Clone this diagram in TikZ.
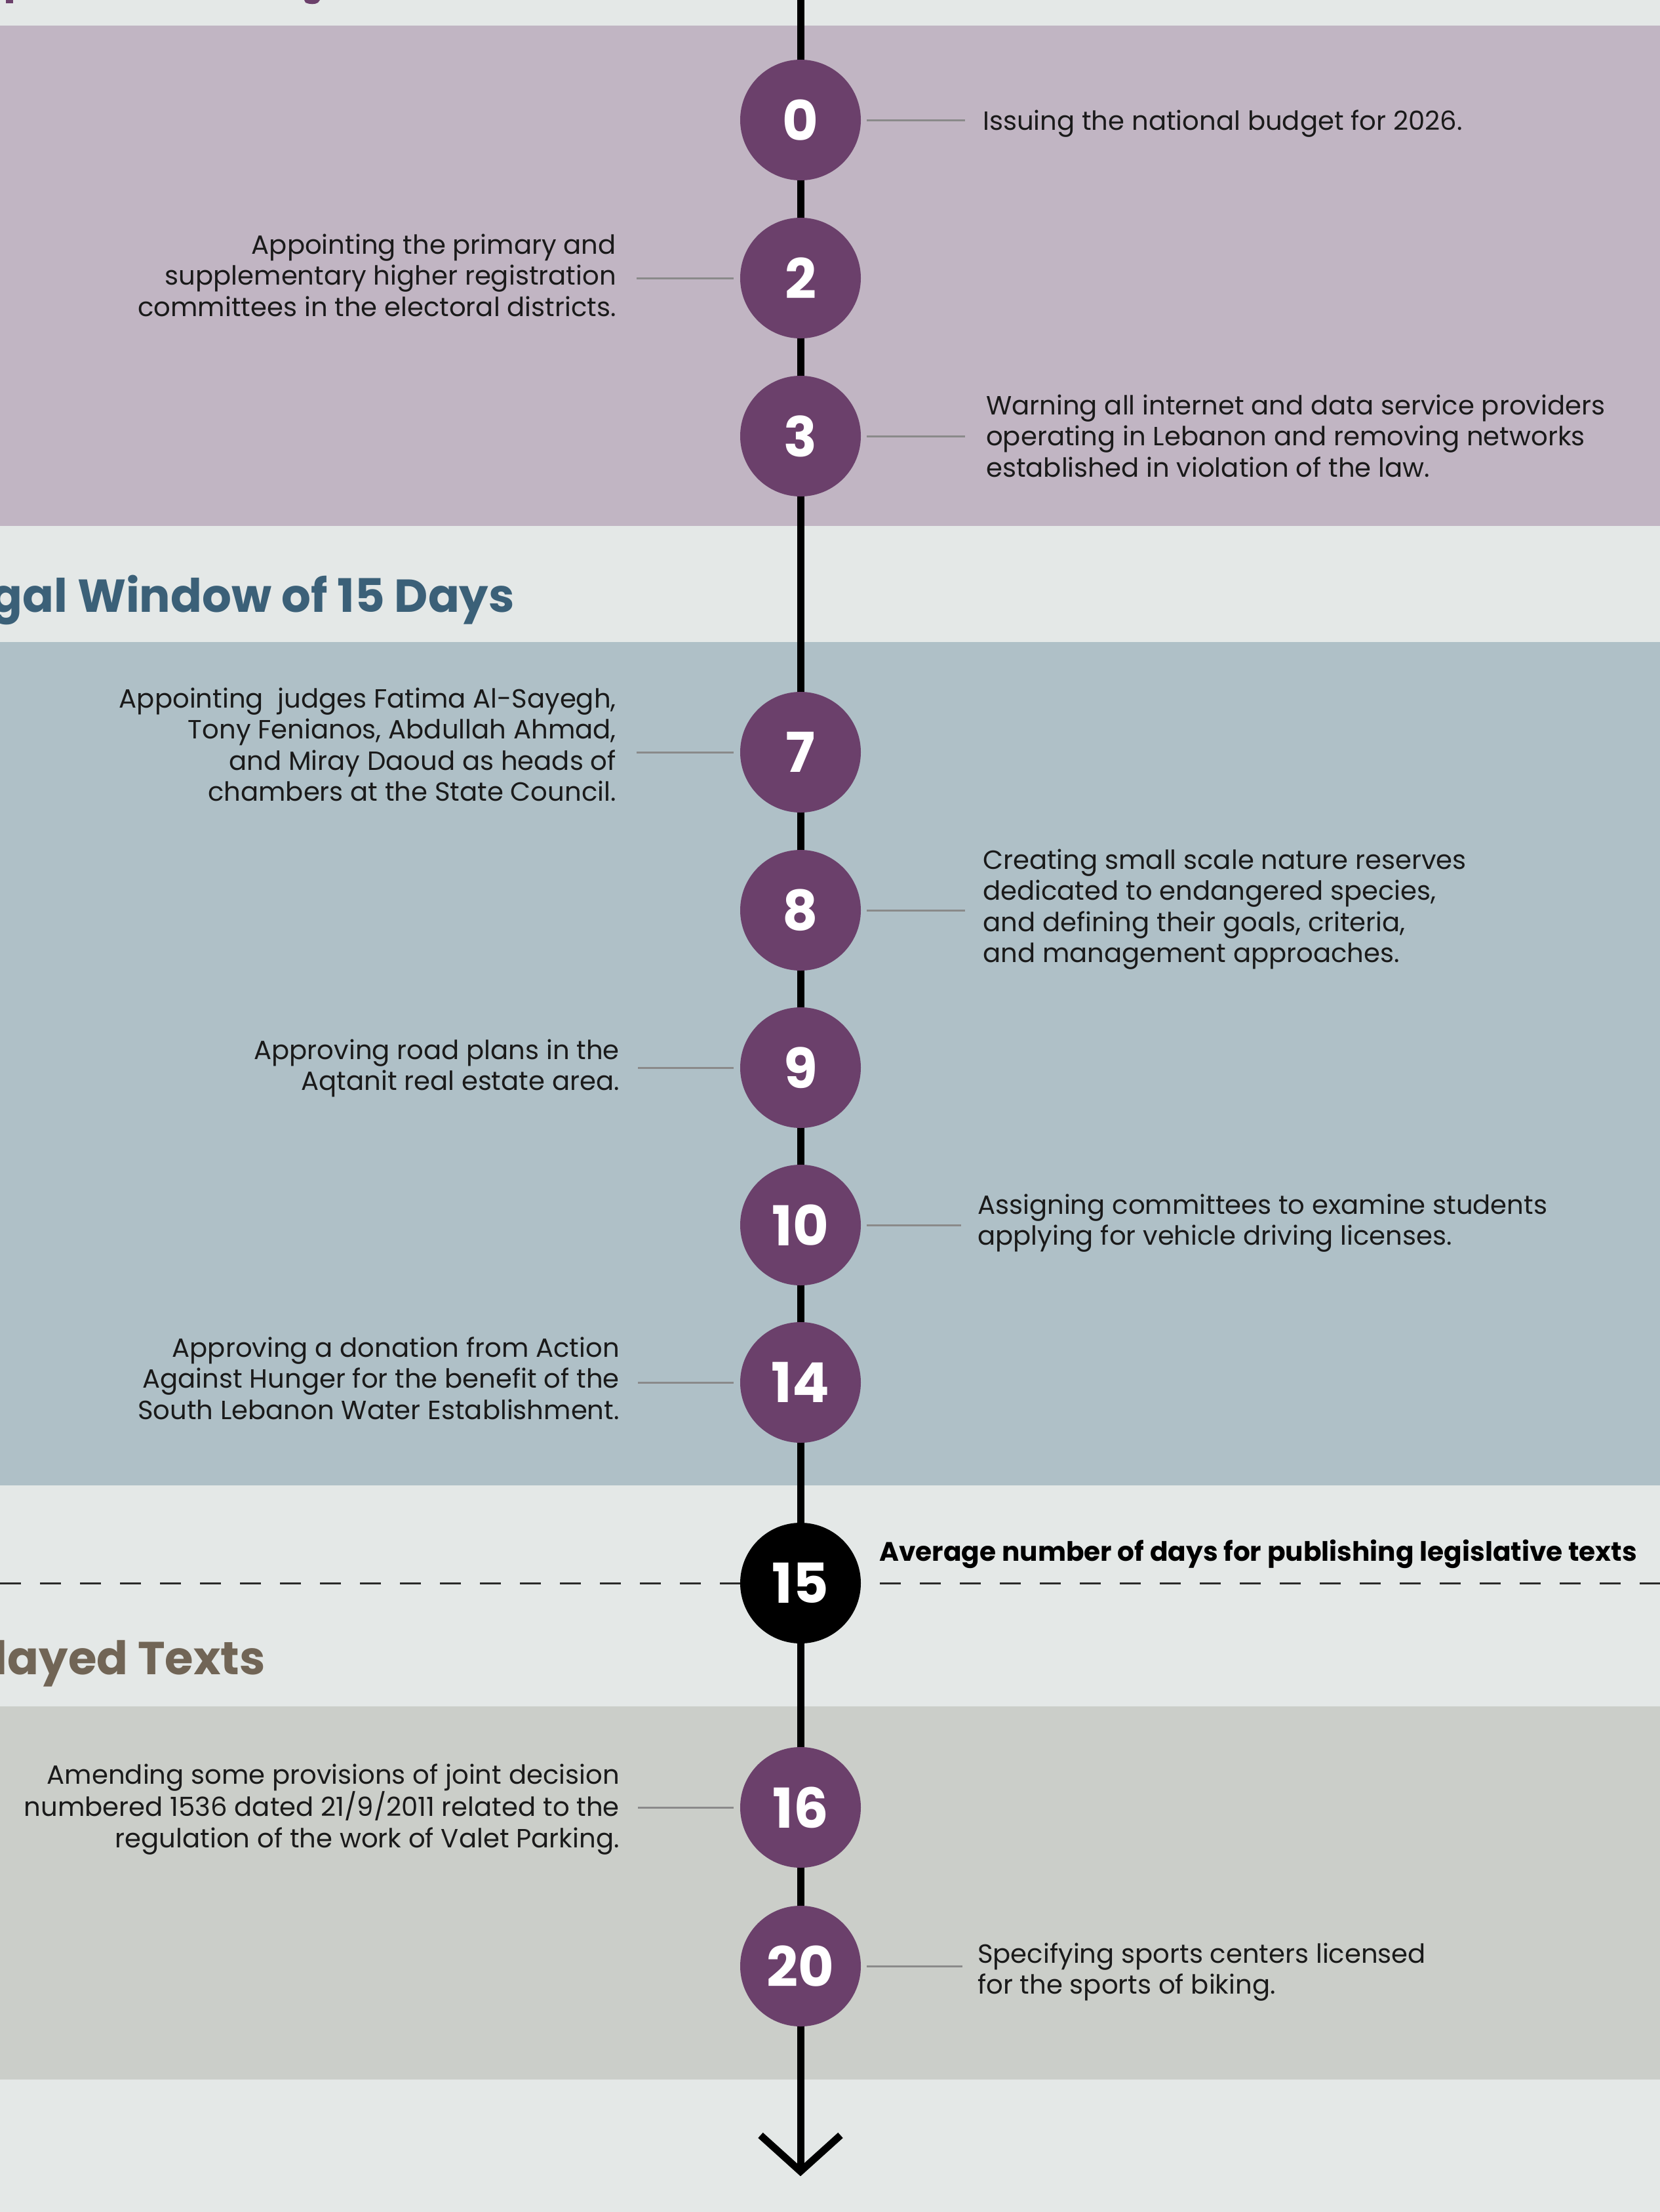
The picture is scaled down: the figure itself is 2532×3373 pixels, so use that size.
\documentclass[tikz,border=0pt]{standalone}
\usepackage{fontspec}
\setmainfont{Poppins}
\definecolor{bgc}{HTML}{E4E8E7}
\definecolor{bandA}{HTML}{C1B5C3}
\definecolor{bandB}{HTML}{AFC0C7}
\definecolor{bandC}{HTML}{CBCEC9}
\definecolor{dotc}{HTML}{6B406B}
\definecolor{headB}{HTML}{3B6078}
\definecolor{headC}{HTML}{716556}
\definecolor{conc}{HTML}{8A8A8A}
\definecolor{txt}{HTML}{1A1A1A}
\definecolor{dashc}{HTML}{2A2A2A}
\newcommand{\fl}{\rule{0pt}{35pt}}
\tikzset{
  dot/.style={circle, fill=dotc, minimum size=184pt, inner sep=0pt, text=white,
    font=\fontsize{84}{84}\selectfont\bfseries},
  blackdot/.style={dot, fill=black},
  rtext/.style={anchor=north west, align=left, inner sep=0pt, text=txt,
    font=\fontsize{40.2}{47.5}\selectfont},
  ltext/.style={anchor=north east, align=right, inner sep=0pt, text=txt,
    font=\fontsize{40.2}{47.5}\selectfont},
  conn/.style={draw=conc, line width=3pt},
  heading/.style={anchor=base east, inner sep=0pt, font=\fontsize{70.5}{70}\selectfont\bfseries},
  tline/.style={draw=black, line width=11pt},
}
\begin{document}
\begin{tikzpicture}[x=1pt,y=-1pt]
\useasboundingbox (0,0) rectangle (2532,3373);
\clip (0,0) rectangle (2532,3373);
\fill[bgc] (0,0) rectangle (2532,3373);
% bands
\fill[bandA] (0,39) rectangle (2532,802);
\fill[bandB] (0,979) rectangle (2532,2265);
\fill[bandC] (0,2602) rectangle (2532,3171);
% heading fragments at top
\fill[dotc] (9,0) rectangle (20,5);
\fill[dotc] (464,0) -- (488,0) -- (485,4) .. controls (481,7) and (472,7) .. (466,4) -- cycle;
% headings
\node[heading, text=headB] (h2) at (785,933) {Legal Window of 15 Days};
\node[heading, text=headC] (h3) at (405,2553) {Delayed Texts};
% dashed reference line
\coordinate (dl) at (0,2414);
\coordinate (dr) at (2532,2414);
\draw[draw=dashc, line width=3pt, dash pattern=on 32pt off 29pt] (dl) -- (dr);
% timeline
\coordinate (ltop) at (1221,0);
\coordinate (tip) at (1221,3311);
\coordinate (al) at (1160,3256);
\coordinate (ar) at (1282,3256);
\draw[tline] (ltop) -- (tip);
\draw[tline, miter limit=10] (al) -- (tip) -- (ar);
% circles
\node[dot] (c0) at (1221,183) {0};
\node[dot] (c2) at (1221,424) {2};
\node[dot] (c3) at (1221,665) {3};
\node[dot] (c7) at (1221,1147) {7};
\node[dot] (c8) at (1221,1388) {8};
\node[dot] (c9) at (1221,1628) {9};
\node[dot] (c10) at (1221,1868) {10};
\node[dot] (c14) at (1221,2108) {14};
\node[blackdot] (c15) at (1221,2414) {15};
\node[dot] (c16) at (1221,2756) {16};
\node[dot] (c20) at (1221,2998) {20};
% texts (y = first baseline - 35)
\node[rtext] (t0) at (1499,163) {\fl Issuing the national budget for 2026.};
\node[ltext] (t2) at (940,352) {\fl Appointing the primary and\\supplementary higher registration\\committees in the electoral districts.};
\node[rtext] (t3) at (1504,597) {\fl Warning all internet and data service providers\\operating in Lebanon and removing networks\\established in violation of the law.};
\node[ltext] (t7) at (940,1044) {\fl Appointing\ \ judges Fatima Al-Sayegh,\\Tony Fenianos, Abdullah Ahmad,\\and Miray Daoud as heads of\\chambers at the State Council.};
\node[rtext] (t8) at (1499,1290) {\fl Creating small scale nature reserves\\dedicated to endangered species,\\and defining their goals, criteria,\\and management approaches.};
\node[ltext] (t9) at (945,1580) {\fl Approving road plans in the\\Aqtanit real estate area.};
\node[rtext] (t10) at (1491,1816) {\fl Assigning committees to examine students\\applying for vehicle driving licenses.};
\node[ltext] (t14) at (945,2034) {\fl Approving a donation from Action\\Against Hunger for the benefit of the\\South Lebanon Water Establishment.};
\node[anchor=base west, inner sep=0pt, text=black, font=\fontsize{40.7}{47.5}\selectfont\bfseries] (t15) at (1341,2380) {Average number of days for publishing legislative texts};
\node[ltext] (t16) at (945,2685) {\fl Amending some provisions of joint decision\\numbered 1536 dated 21/9/2011 related to the\\regulation of the work of Valet Parking.};
\node[rtext] (t20) at (1491,2958) {\fl Specifying sports centers licensed\\for the sports of biking.};
% connectors
\draw[conn] ([xshift=9pt]c0.east) -- ++(150pt,0);
\draw[conn] ([xshift=-10pt]c2.west) -- ++(-148pt,0);
\draw[conn] ([xshift=9pt]c3.east) -- ++(150pt,0);
\draw[conn] ([xshift=-10pt]c7.west) -- ++(-148pt,0);
\draw[conn] ([xshift=9pt]c8.east) -- ++(150pt,0);
\draw[conn] ([xshift=-10pt]c9.west) -- ++(-146pt,0);
\draw[conn] ([xshift=9pt]c10.east) -- ++(144pt,0);
\draw[conn] ([xshift=-10pt]c14.west) -- ++(-146pt,0);
\draw[conn] ([xshift=-10pt]c16.west) -- ++(-146pt,0);
\draw[conn] ([xshift=9pt]c20.east) -- ++(146pt,0);
\end{tikzpicture}
\end{document}
